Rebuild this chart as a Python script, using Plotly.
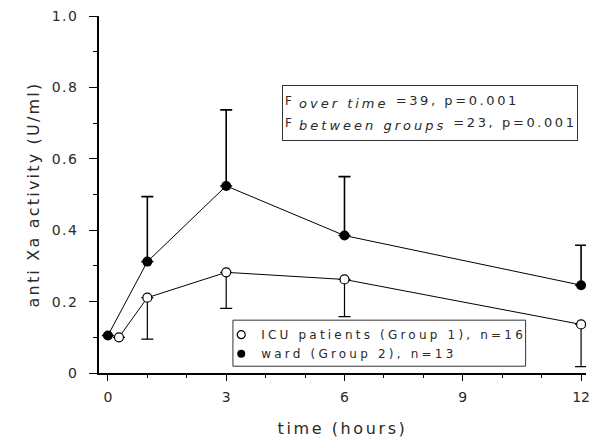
import plotly.graph_objects as go

# Data
ward_t = [0, 1, 3, 6, 12]
ward_y = [0.105, 0.312, 0.524, 0.385, 0.246]
ward_err = [0, 0.182, 0.213, 0.165, 0.112]

icu_t = [0.28, 1, 3, 6, 12]
icu_y = [0.10, 0.211, 0.282, 0.262, 0.136]
icu_err = [0, 0.116, 0.101, 0.104, 0.118]

y_tickvals = [0, 0.2, 0.4, 0.6, 0.8, 1.0]
y_ticktext = ["0", "0.2", "0.4", "0.6", "0.8", "1.0"]
x_tickvals = [0, 3, 6, 9, 12]
x_ticktext = ["0", "3", "6", "9", "12"]

legend_labels = ["ICU patients (Group 1), n=16", "ward (Group 2), n=13"]
stat_subs = ["over time", "between groups"]
stat_vals = ["=39, p=0.001", "=23, p=0.001"]

FONT = "DejaVu Sans"
TXT = "#2a2a2a"


def sp(text, ls, size=None):
    st = "letter-spacing:%spx" % ls
    if size:
        st += ";font-size:%spx" % size
    return '<span style="%s">%s</span>' % (st, text)


stats_text = "<br>".join(
    sp("F", 0, 12) + "<sub><i>" + sp("&nbsp;" + s + "&nbsp;", 3.0, 13)
    + "</i></sub>" + sp(v, 2.6, 13)
    for s, v in zip(stat_subs, stat_vals)
)

fig = go.Figure()

fig.add_trace(go.Scatter(
    x=ward_t, y=ward_y, mode="lines+markers", showlegend=False,
    line=dict(color="black", width=1),
    marker=dict(symbol="circle", size=10, color="black"),
    error_y=dict(type="data", symmetric=False, array=ward_err,
                 arrayminus=[0] * len(ward_err), color="black",
                 thickness=1.6, width=6),
))
fig.add_trace(go.Scatter(
    x=icu_t, y=icu_y, mode="lines+markers", showlegend=False,
    line=dict(color="black", width=1),
    marker=dict(symbol="circle", size=9, color="white",
                line=dict(color="black", width=1.2)),
    error_y=dict(type="data", symmetric=False, array=[0] * len(icu_err),
                 arrayminus=icu_err, color="black", thickness=1.2, width=6),
))

# legend-only entries
fig.add_trace(go.Scatter(
    x=[None], y=[None], mode="markers", name=sp(legend_labels[0], 3.2),
    marker=dict(symbol="circle", size=8, color="white",
                line=dict(color="black", width=1.2)),
))
fig.add_trace(go.Scatter(
    x=[None], y=[None], mode="markers", name=sp(legend_labels[1], 3.2),
    marker=dict(symbol="circle", size=8, color="black"),
))

# legend frame
fig.add_shape(type="rect", xref="paper", yref="paper",
              x0=0.275, x1=0.876, y0=0.019, y1=0.148,
              line=dict(color="#333", width=1), fillcolor="white", layer="above")

fig.add_annotation(
    xref="paper", yref="paper", x=0.375, y=0.807,
    xanchor="left", yanchor="top", text=stats_text, align="left",
    showarrow=False, bordercolor="#333", borderwidth=1, borderpad=2,
    bgcolor="white", font=dict(family=FONT, size=17, color=TXT),
    width=290, height=50, valign="middle",
)

fig.update_layout(
    width=594, height=448,
    margin=dict(l=99, r=4, t=16, b=75),
    paper_bgcolor="white", plot_bgcolor="white",
    font=dict(family=FONT, size=12, color=TXT),
    showlegend=True,
    legend=dict(x=0.251, y=0.148, xanchor="left", yanchor="top",
                borderwidth=0, bgcolor="rgba(0,0,0,0)",
                font=dict(family=FONT, size=12, color=TXT),
                itemwidth=30, tracegroupgap=0, traceorder="normal"),
    xaxis=dict(
        range=[-0.226, 12.125], showline=True, linecolor="black", linewidth=1.5,
        showgrid=False, zeroline=False,
        tickmode="array", tickvals=x_tickvals, ticktext=x_ticktext,
        ticks="outside", ticklen=6, tickcolor="black", tickwidth=1,
        minor=dict(dtick=1, tick0=0, ticks="outside", ticklen=3, tickcolor="black"),
        tickfont=dict(family=FONT, size=14, color=TXT),
        ticklabelstandoff=4, ticklabeloverflow="allow",
        title=dict(text=sp("time (hours)", 2.6),
                   font=dict(family=FONT, size=16, color=TXT), standoff=19),
    ),
    yaxis=dict(
        range=[0, 1.0], showline=True, linecolor="black", linewidth=1.5,
        showgrid=False, zeroline=False,
        tickmode="array", tickvals=y_tickvals,
        ticktext=[sp(t, 1.5) for t in y_ticktext],
        ticks="outside", ticklen=8, tickcolor="black", tickwidth=1,
        minor=dict(dtick=0.1, tick0=0, ticks="outside", ticklen=4, tickcolor="black"),
        tickfont=dict(family=FONT, size=14, color=TXT),
        ticklabelstandoff=8,
        title=dict(text=sp("anti Xa activity (U/ml)", 2.2),
                   font=dict(family=FONT, size=16, color=TXT), standoff=8),
    ),
)

fig.write_html("out.html")
